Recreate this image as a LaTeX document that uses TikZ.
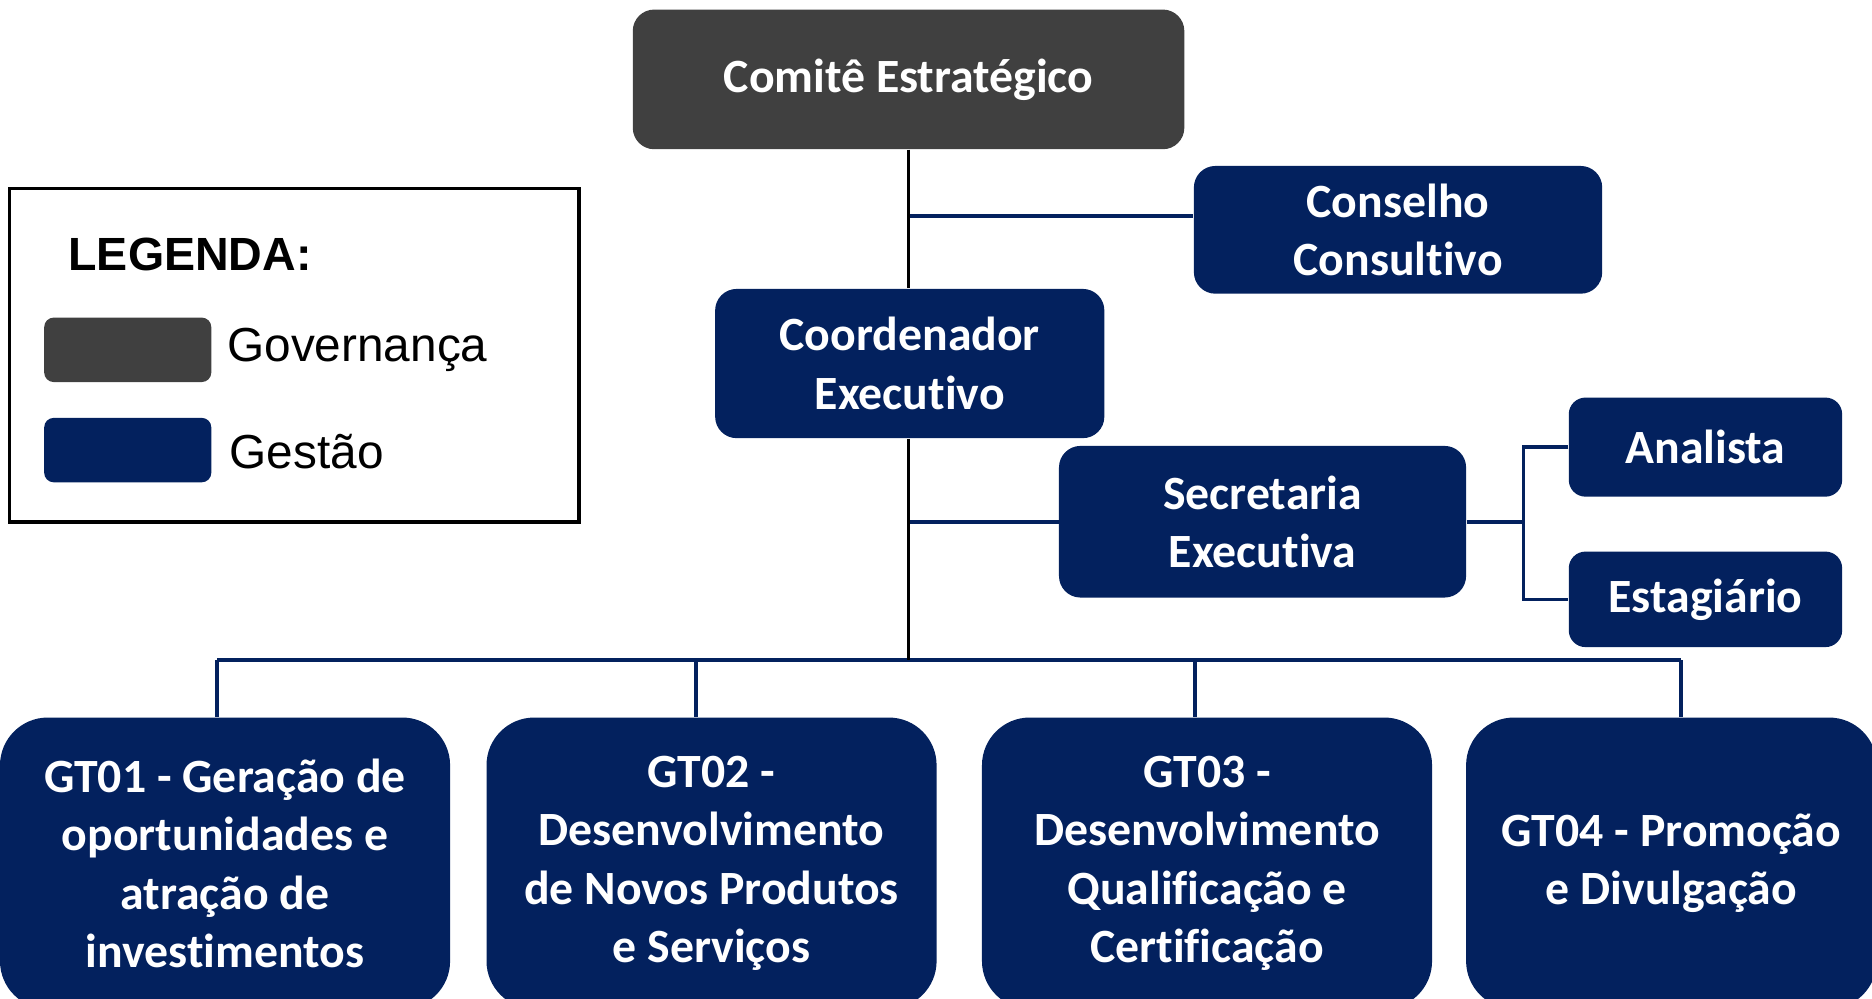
\documentclass[tikz,border=0pt]{standalone}
\usepackage{fontspec}
\setmainfont{Carlito}[Ligatures=NoCommon]
\newfontfamily\arialf{Liberation Sans}
\definecolor{govgrey}{HTML}{404040}
\definecolor{navy}{HTML}{03215E}
\tikzset{
  boxtext/.style={text=white, font=\bfseries\fontsize{20}{24.5}\selectfont, align=center, inner sep=0pt},
  govbox/.style={boxtext, fill=govgrey, rounded corners=9pt},
  gesbox/.style={boxtext, fill=navy, rounded corners=9pt},
  gtbox/.style={boxtext, fill=navy, rounded corners=20pt, minimum width=188.5pt, minimum height=122pt},
  trunk/.style={black, line width=1.5pt},
  navyline/.style={navy, line width=1.5pt},
  legtext/.style={font=\arialf\fontsize{20}{24}\selectfont, anchor=west, inner sep=0pt},
}
\begin{document}
\begin{tikzpicture}[x=0.5pt, y=-0.5pt]
\useasboundingbox (0,0) rectangle (1568,836);
\clip (0,0) rectangle (1568,836);

% Legend
\node[draw=black, line width=1.5pt, minimum width=238.5pt, minimum height=139.5pt, inner sep=0pt] (leg) at (246.5,297.5) {};
\node[font=\arialf\bfseries\fontsize{19.5}{23}\selectfont, anchor=west, inner sep=0pt] (legt) at (57,213) {LEGENDA:};
\node[fill=govgrey, rounded corners=4pt, minimum width=70pt, minimum height=27pt, inner sep=0pt] (sw1) at (107,293) {};
\node[fill=navy, rounded corners=4pt, minimum width=70pt, minimum height=27pt, inner sep=0pt] (sw2) at (107,377) {};
\node[legtext] (l1) at (190,293) {Governança};
\node[legtext] (l2) at (192,378) {Gestão};

% Boxes
\node[govbox, minimum width=231pt, minimum height=58.5pt] (ce) at (761,66.5) {Comitê Estratégico};
\node[gesbox, minimum width=171pt, minimum height=53.5pt] (cc) at (1171,192.5) {Conselho\\Consultivo};
\node[gesbox, minimum width=163pt, minimum height=62.5pt] (co) at (762,304.5) {Coordenador\\Executivo};
\node[gesbox, minimum width=170.5pt, minimum height=63.5pt] (se) at (1057.5,437) {Secretaria\\Executiva};
\node[gesbox, minimum width=114.5pt, minimum height=41.5pt, rounded corners=7pt] (an) at (1428.5,374.5) {Analista};
\node[gesbox, minimum width=114.5pt, minimum height=40pt, rounded corners=7pt] (es) at (1428.5,502) {Estagiário};

\node[gtbox] (g1) at (188.5,723) {GT01 - Geração de\\oportunidades e\\atração de\\investimentos};
\node[gtbox] (g2) at (596,723) {GT02 -\\Desenvolvimento\\de Novos Produtos\\e Serviços};
\node[gtbox] (g3) at (1011,723) {GT03 -\\Desenvolvimento\\Qualificação e\\Certificação};
\node[gtbox, minimum width=172pt] (g4) at (1400,723) {GT04 - Promoção\\e Divulgação};

% Coordinates
\coordinate (cj) at (761,181);
\coordinate (sj) at (1276,437);
\coordinate (b1) at (182,553);
\coordinate (b2) at (583,553);
\coordinate (b3) at (1001,553);
\coordinate (b4) at (1408,553);

% Connectors
\draw[navyline] (cj) -- (cj -| cc.west);
\draw[navyline] (ce.south |- se.west) -- (se.west);
\draw[navyline] (se.east) -- (sj);
\draw[navyline] (an.west) -- (an.west -| sj) -- (es.west -| sj) -- (es.west);
\draw[navyline] (b1) -- (b4);
\draw[navyline] (b1) -- (b1 |- g1.north);
\draw[navyline] (b2) -- (b2 |- g2.north);
\draw[navyline] (b3) -- (b3 |- g3.north);
\draw[navyline] (b4) -- (b4 |- g4.north);
\draw[trunk] (ce.south) -- (ce.south |- co.north);
\draw[trunk] (ce.south |- co.south) -- (ce.south |- b1);
\end{tikzpicture}
\end{document}
